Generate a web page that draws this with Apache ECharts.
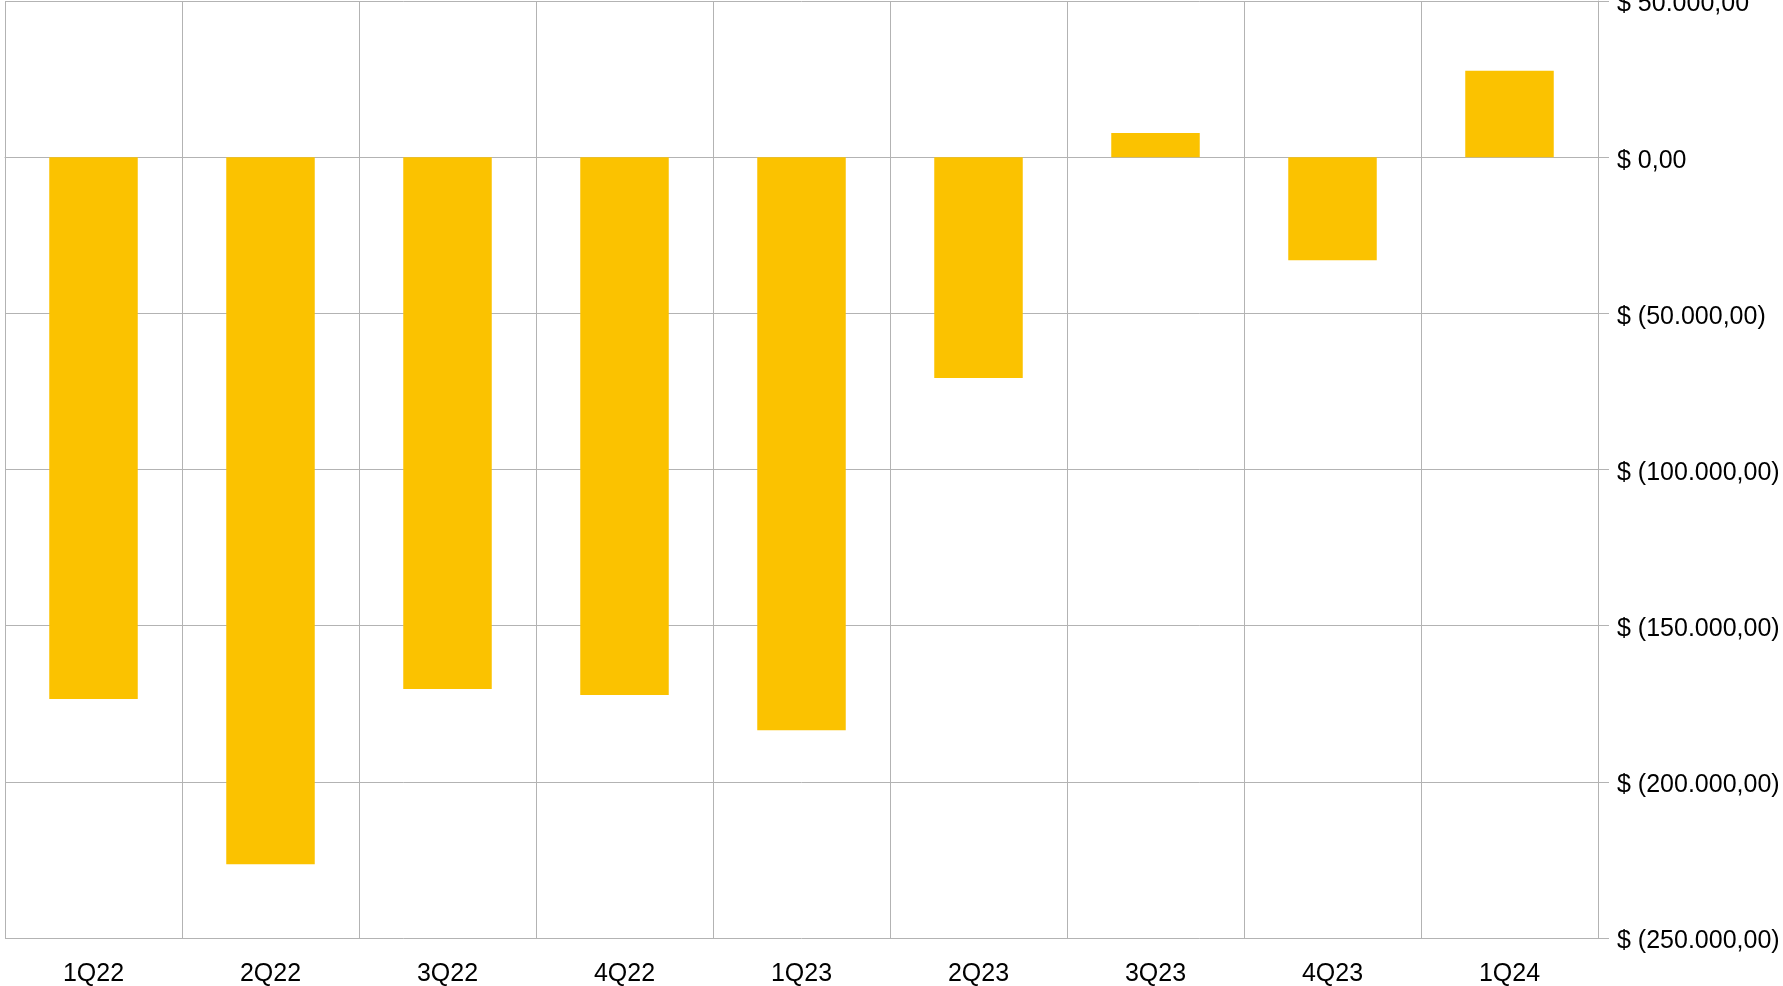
<!DOCTYPE html>
<html>
<head>
<meta charset="utf-8">
<script src="https://cdn.jsdelivr.net/npm/echarts@6/dist/echarts.min.js"></script>
<style>
  html, body { margin: 0; padding: 0; background: #fff; }
  #chart { width: 1783px; height: 986px; }
</style>
</head>
<body>
<div id="chart"></div>
<script>
// quarters and result per quarter
const quarters = ['1Q22', '2Q22', '3Q22', '4Q22', '1Q23', '2Q23', '3Q23', '4Q23', '1Q24'];
const results = [-173500, -226400, -170300, -172200, -183500, -70700, 7700, -33000, 27700];

const gridColor = '#b3b3b3';

function money(v) {
  const abs = Math.abs(v).toFixed(0).replace(/\B(?=(\d{3})+(?!\d))/g, '.') + ',00';
  return v < 0 ? '$ (' + abs + ')' : '$ ' + abs;
}

const chart = echarts.init(document.getElementById('chart'));
chart.setOption({
  backgroundColor: '#ffffff',
  animation: false,
  textStyle: { fontFamily: 'Liberation Sans' },
  grid: { left: 5, right: 185, top: 1, bottom: 48, outerBoundsMode: 'none', containLabel: false },
  xAxis: {
    type: 'category',
    data: quarters,
    axisLine: { show: true, lineStyle: { color: gridColor } },
    axisTick: { show: true, length: 10, lineStyle: { color: gridColor } },
    splitLine: { show: true, lineStyle: { color: gridColor } },
    axisLabel: { color: '#000', fontSize: 25, margin: 24, fontFamily: 'Liberation Sans' }
  },
  yAxis: {
    type: 'value',
    position: 'right',
    min: -250000,
    max: 50000,
    interval: 50000,
    axisLine: { show: true, lineStyle: { color: gridColor } },
    axisTick: { show: true, length: 11, lineStyle: { color: gridColor } },
    splitLine: { show: true, lineStyle: { color: gridColor } },
    axisLabel: {
      color: '#000',
      fontSize: 25,
      margin: 19,
      verticalAlign: 'top',
      lineHeight: 7,
      fontFamily: 'Liberation Sans',
      formatter: money
    }
  },
  series: [{
    type: 'bar',
    data: results,
    barWidth: '50%',
    itemStyle: { color: '#fbc200' }
  }]
});
</script>
</body>
</html>
